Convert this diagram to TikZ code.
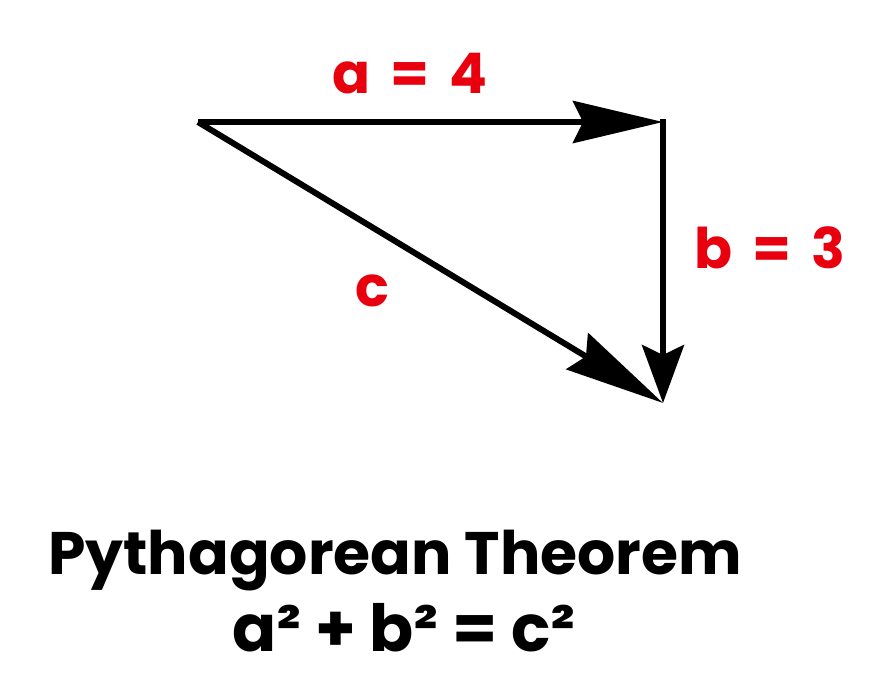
\documentclass[tikz,border=0pt]{standalone}
\usepackage{fontspec}
\setmainfont{Poppins}
\usetikzlibrary{arrows.meta}
\definecolor{lbl}{HTML}{E8000E}
\definecolor{ink}{HTML}{000000}
\newcommand{\gap}{\hspace{.36em}}
\begin{document}
\begin{tikzpicture}[x=1pt,y=-1pt,font=\bfseries,
 vec/.style={line width=6pt,draw=ink,-{Stealth[length=#1,width=42pt,inset=10pt]}},
 vec/.default=90pt,
 side/.style={text=lbl,font=\bfseries\fontsize{56}{60}\selectfont,inner sep=0pt},
 caption/.style={text=ink,font=\bfseries\fontsize{60}{66}\selectfont,inner sep=0pt}]
\path[use as bounding box,fill=white] (0,0) rectangle (870,677);
\coordinate (start) at (198,122);
\coordinate (corner) at (663,122);
\coordinate (end) at (663,403);
% the three vectors of the triangle
\draw[vec] (start)--(corner);
\draw[vec=58pt,line cap=rect] (corner)--(end);
\draw[vec=100pt] (start)--(end);
\node[side,anchor=base] (alab) at (410,93) {a\gap=\gap4};
\node[side,anchor=base] (blab) at (770,268) {b\gap=\gap3};
\node[side,anchor=base] (clab) at (372,306) {c};
\node[caption,anchor=base] (title) at (395,574) {Pythagorean Theorem};
\node[caption,anchor=base,font=\bfseries\fontsize{65}{70}\selectfont] (formula) at (404,651) {a² + b² = c²};
\end{tikzpicture}
\end{document}
